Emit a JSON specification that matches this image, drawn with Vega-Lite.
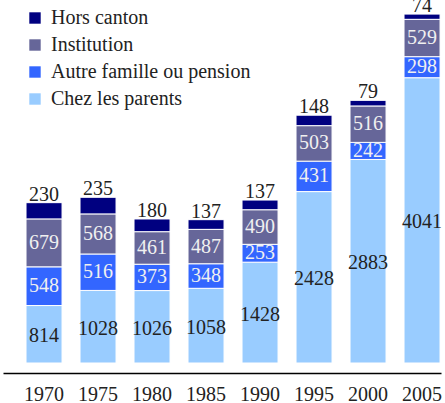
{
  "$schema": "https://vega.github.io/schema/vega-lite/v6.json",
  "width": 438,
  "height": 353,
  "autosize": "none",
  "padding": {"left": 3, "top": 10, "right": 4, "bottom": 40},
  "background": "white",
  "config": {"view": {"stroke": null}, "font": "Liberation Serif"},
  "data": {"values": [
    {"year": "1970", "cat": "Chez les parents", "o": 1, "v": 814},
    {"year": "1970", "cat": "Autre famille ou pension", "o": 2, "v": 548},
    {"year": "1970", "cat": "Institution", "o": 3, "v": 679},
    {"year": "1970", "cat": "Hors canton", "o": 4, "v": 230},
    {"year": "1975", "cat": "Chez les parents", "o": 1, "v": 1028},
    {"year": "1975", "cat": "Autre famille ou pension", "o": 2, "v": 516},
    {"year": "1975", "cat": "Institution", "o": 3, "v": 568},
    {"year": "1975", "cat": "Hors canton", "o": 4, "v": 235},
    {"year": "1980", "cat": "Chez les parents", "o": 1, "v": 1026},
    {"year": "1980", "cat": "Autre famille ou pension", "o": 2, "v": 373},
    {"year": "1980", "cat": "Institution", "o": 3, "v": 461},
    {"year": "1980", "cat": "Hors canton", "o": 4, "v": 180},
    {"year": "1985", "cat": "Chez les parents", "o": 1, "v": 1058},
    {"year": "1985", "cat": "Autre famille ou pension", "o": 2, "v": 348},
    {"year": "1985", "cat": "Institution", "o": 3, "v": 487},
    {"year": "1985", "cat": "Hors canton", "o": 4, "v": 137},
    {"year": "1990", "cat": "Chez les parents", "o": 1, "v": 1428},
    {"year": "1990", "cat": "Autre famille ou pension", "o": 2, "v": 253},
    {"year": "1990", "cat": "Institution", "o": 3, "v": 490},
    {"year": "1990", "cat": "Hors canton", "o": 4, "v": 137},
    {"year": "1995", "cat": "Chez les parents", "o": 1, "v": 2428},
    {"year": "1995", "cat": "Autre famille ou pension", "o": 2, "v": 431},
    {"year": "1995", "cat": "Institution", "o": 3, "v": 503},
    {"year": "1995", "cat": "Hors canton", "o": 4, "v": 148},
    {"year": "2000", "cat": "Chez les parents", "o": 1, "v": 2883},
    {"year": "2000", "cat": "Autre famille ou pension", "o": 2, "v": 242},
    {"year": "2000", "cat": "Institution", "o": 3, "v": 516},
    {"year": "2000", "cat": "Hors canton", "o": 4, "v": 79},
    {"year": "2005", "cat": "Chez les parents", "o": 1, "v": 4041},
    {"year": "2005", "cat": "Autre famille ou pension", "o": 2, "v": 298},
    {"year": "2005", "cat": "Institution", "o": 3, "v": 529},
    {"year": "2005", "cat": "Hors canton", "o": 4, "v": 74}
  ]},
  "transform": [
    {"stack": "v", "groupby": ["year"], "sort": [{"field": "o", "order": "ascending"}], "as": ["y0", "y1"]},
    {"calculate": "(datum.y0 + datum.y1) / 2", "as": "ym"}
  ],
  "encoding": {
    "x": {
      "field": "year", "type": "nominal",
      "scale": {"paddingInner": 0.333, "paddingOuter": 0.222, "align": 0.96},
      "axis": {"title": null, "labelAngle": 0, "ticks": false, "offset": 10, "domainColor": "#000000", "domainWidth": 1.5, "labelFontSize": 20, "labelColor": "#222222", "labelPadding": 11, "labelFont": "Liberation Serif"}
    }
  },
  "layer": [
    {
      "mark": {"type": "bar", "stroke": "white", "strokeWidth": 1},
      "encoding": {
        "y": {"field": "y0", "type": "quantitative", "scale": {"domain": [0, 5000], "nice": false}, "axis": null},
        "y2": {"field": "y1"},
        "color": {
          "field": "cat", "type": "nominal",
          "scale": {"domain": ["Hors canton", "Institution", "Autre famille ou pension", "Chez les parents"], "range": ["#000080", "#666699", "#3366ff", "#99ccff"]},
          "legend": {"title": null, "orient": "none", "legendX": 22, "legendY": -2, "symbolType": "square", "symbolSize": 130, "symbolStrokeWidth": 0, "labelFontSize": 20, "labelColor": "#222222", "rowPadding": 7, "labelOffset": 6, "labelLimit": 400, "labelFont": "Liberation Serif"}
        }
      }
    },
    {
      "transform": [{"filter": "datum.o == 2 || datum.o == 3"}],
      "mark": {"type": "text", "fontSize": 20, "color": "#f0f0f0", "baseline": "middle"},
      "encoding": {"y": {"field": "ym", "type": "quantitative"}, "text": {"field": "v"}}
    },
    {
      "transform": [{"filter": "datum.o == 1"}],
      "mark": {"type": "text", "fontSize": 20, "color": "#222222", "baseline": "middle", "dy": 2},
      "encoding": {"y": {"field": "ym", "type": "quantitative"}, "text": {"field": "v"}}
    },
    {
      "transform": [{"filter": "datum.o == 4"}],
      "mark": {"type": "text", "fontSize": 20, "color": "#222222", "baseline": "alphabetic", "dy": -2},
      "encoding": {"y": {"field": "y1", "type": "quantitative"}, "text": {"field": "v"}}
    }
  ]
}
